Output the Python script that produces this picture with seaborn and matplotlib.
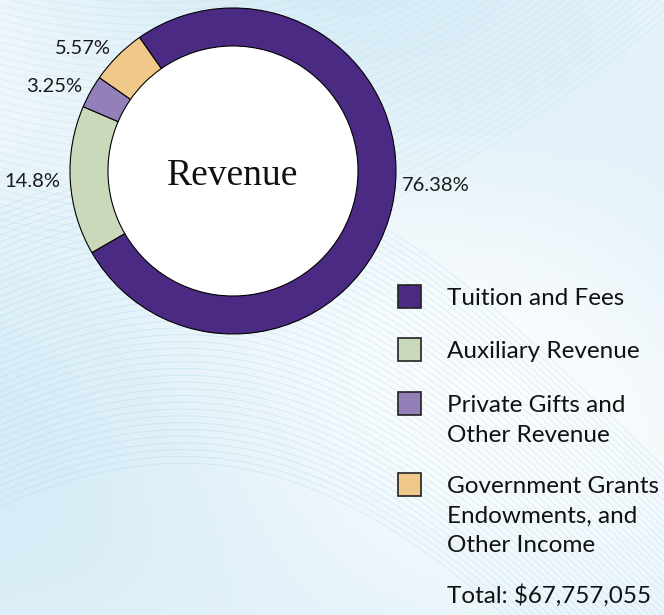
import numpy as np
import matplotlib.pyplot as plt
import seaborn as sns
from matplotlib.patches import Rectangle, Circle
from matplotlib.colors import LinearSegmentedColormap

sns.set_theme(style="white")
plt.rcParams['font.family'] = ['Lato', 'DejaVu Sans']

# Revenue breakdown
categories = ["Tuition and Fees", "Auxiliary Revenue",
              "Private Gifts and\nOther Revenue",
              "Government Grants\nEndowments, and\nOther Income"]
shares = [76.38, 14.8, 3.25, 5.57]
pct_labels = ["76.38%", "14.8%", "3.25%", "5.57%"]
total_label = "Total: $67,757,055"
colors = ["#4b2a84", "#cbd9bb", "#9480b9", "#f0c88a"]

W, H = 664, 615
fig = plt.figure(figsize=(W / 100, H / 100), dpi=100)

# decorative wavy background
bg = fig.add_axes([0, 0, 1, 1], zorder=-5)
gx, gy = np.meshgrid(np.linspace(0, 1, 300), np.linspace(0, 1, 300))
field = (0.55 + 0.25 * np.sin(3.2 * gx + 5.0 * gy + 0.6)
         + 0.2 * np.cos(4.0 * gx - 2.5 * gy + 1.0))
bg_cmap = LinearSegmentedColormap.from_list("bg", ["#ffffff", "#e4f2f9", "#cde8f4"])
bg.imshow(field, extent=(0, 1, 0, 1), origin="lower", cmap=bg_cmap,
          aspect="auto", vmin=0, vmax=1.2)
t = np.linspace(0, 1, 200)
for k in range(45):
    bg.plot(t, 0.05 + 0.011 * k + 0.28 * np.sin(np.pi * (0.15 + 0.9 * t)) - 0.25 * t,
            color="#9fd3ea", lw=0.6, alpha=0.35)
for k in range(35):
    bg.plot(t, 0.62 + 0.012 * k + 0.35 * t ** 1.6 - 0.1 * np.sin(np.pi * t),
            color="#aed9ec", lw=0.6, alpha=0.3)
bg.set_xlim(0, 1)
bg.set_ylim(0, 1)
bg.axis("off")

# donut
cx, cy, R = 233, 171, 163
side = 2.5 * R
ax = fig.add_axes([(cx - side / 2) / W, (H - cy - side / 2) / H, side / W, side / H])
ax.add_patch(Circle((0, 0), 0.77, facecolor="white", edgecolor="none", zorder=0))
wedges, texts = ax.pie(
    shares, labels=pct_labels, colors=colors, startangle=125, counterclock=False,
    labeldistance=1.06,
    wedgeprops=dict(width=0.233, edgecolor="black", linewidth=0.8),
    textprops=dict(fontsize=14.5, color="#1a1a1a"),
)
texts[0].set_y(-0.09)
ax.text(0, -0.03, "Revenue", ha="center", va="center", fontsize=27,
        family="Liberation Serif", color="#111111")
ax.set_xlim(-1.25, 1.25)
ax.set_ylim(-1.25, 1.25)
ax.set_aspect("equal")
ax.axis("off")

# legend
box_x, box_s, text_x = 398, 23, 447
first_baselines = [305, 358, 412, 493]
line_gap = 29.5
for cat, col, base in zip(categories, colors, first_baselines):
    fig.patches.append(Rectangle((box_x / W, 1 - (base - 20 + box_s) / H),
                                 box_s / W, box_s / H, transform=fig.transFigure,
                                 facecolor=col, edgecolor="#222222", lw=1.2))
    for i, line in enumerate(cat.split("\n")):
        fig.text(text_x / W, 1 - (base + i * line_gap) / H, line,
                 fontsize=17.5, va="baseline", ha="left", color="#111111")
fig.text(text_x / W, 1 - 603 / H, total_label, fontsize=17.5,
         va="baseline", ha="left", color="#111111")

fig.savefig("out.png", dpi=100)
